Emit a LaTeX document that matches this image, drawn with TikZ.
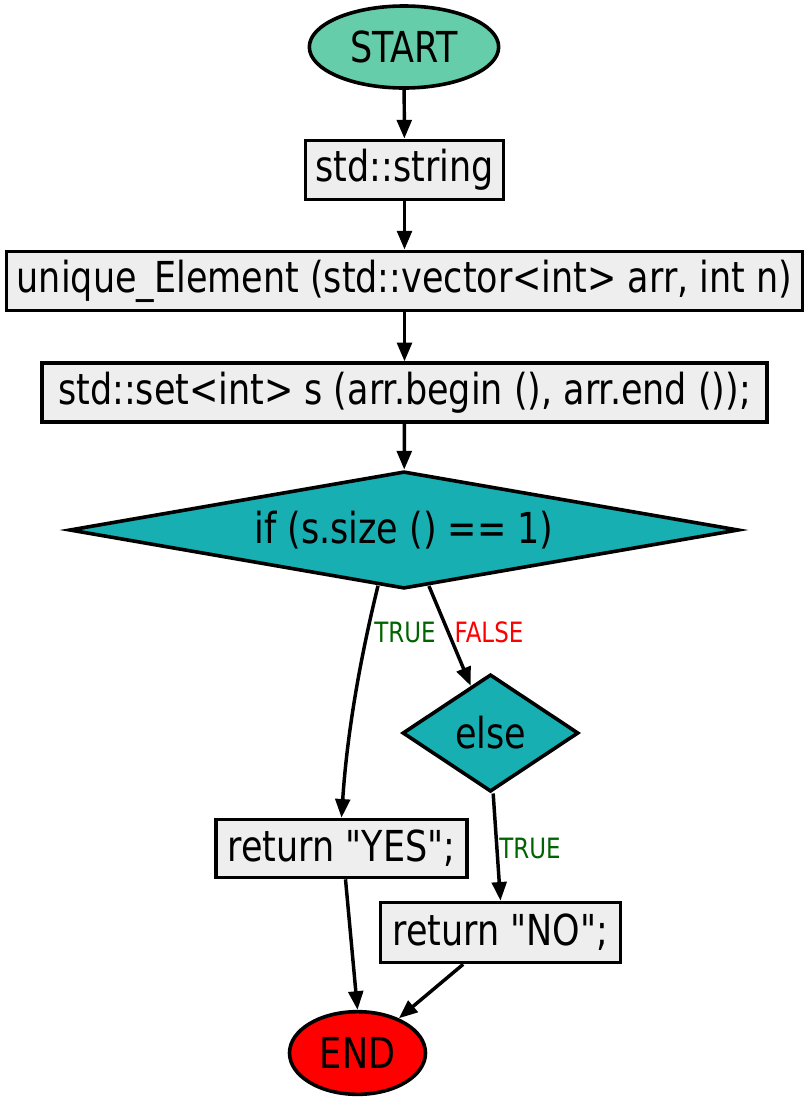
\documentclass[tikz,border=0pt]{standalone}
\usepackage{fontspec}
\setmainfont{DejaVu Sans}[FakeStretch=0.82, Ligatures=TeXOff]
\usetikzlibrary{shapes.geometric,arrows.meta}
\definecolor{startc}{HTML}{66CDAA}
\definecolor{boxc}{HTML}{EEEEEE}
\definecolor{decc}{HTML}{17AFB2}
\definecolor{truec}{HTML}{006400}
\definecolor{falsec}{HTML}{FF0000}
\tikzset{
  base/.style={draw=black, line width=2.7pt, inner sep=0pt, font=\fontsize{32}{38}\selectfont, text=black},
  term/.style={base, ellipse},
  proc/.style={base, rectangle, fill=boxc},
  dec/.style={base, diamond, fill=decc},
  conn/.style={line width=2.6pt, -{Triangle[length=14pt,width=11pt]}},
  lbl/.style={font=\fontsize{21}{24}\selectfont, inner sep=0pt}
}
\begin{document}
\begin{tikzpicture}[x=0.75pt,y=-0.75pt]
\useasboundingbox (0,0) rectangle (809,1104);
\node[term, fill=startc, minimum width=142pt, minimum height=61.5pt] (start) at (404,47) {START};
\node[proc, minimum width=148.5pt, minimum height=44.5pt] (str) at (404.5,170) {std::string};
\node[proc, minimum width=597pt, minimum height=44.5pt] (uniq) at (404.5,281) {unique\_Element (std::vector<int> arr, int n)};
\node[proc, minimum width=544pt, minimum height=44pt] (set) at (404.5,392.5) {std::set<int> s (arr.begin (), arr.end ());};
\node[dec, aspect=5.7, minimum width=502pt, minimum height=88pt] (if) at (404,530) {if (s.size () == 1)};
\node[dec, aspect=1.5, minimum width=132pt, minimum height=88pt] (else) at (490.5,733) {else};
\node[proc, minimum width=188pt, minimum height=43.5pt] (yes) at (341.5,848.5) {return "YES";};
\node[proc, minimum width=180pt, minimum height=45pt] (no) at (500.5,932.5) {return "NO";};
\node[term, fill=red, minimum width=102pt, minimum height=62pt] (end) at (357.5,1053) {END};

\draw[conn] (start) -- (str);
\draw[conn] (str) -- (uniq);
\draw[conn] (uniq) -- (set);
\draw[conn] (set) -- (if);
\draw[conn] (if.245) .. controls (355,680) and (346,750) .. (yes.north);
\draw[conn] (if.294) -- (else);
\draw[conn] ([xshift=2pt]else.south) -- (no.north);
\draw[conn] ([xshift=3pt]yes.south) -- (end.north);
\draw[conn] ([xshift=-28pt]no.south) -- (end);

\node[lbl, text=truec] (t1) at (405,632) {TRUE};
\node[lbl, text=falsec] (f1) at (489,632) {FALSE};
\node[lbl, text=truec] (t2) at (530,848) {TRUE};
\end{tikzpicture}
\end{document}
